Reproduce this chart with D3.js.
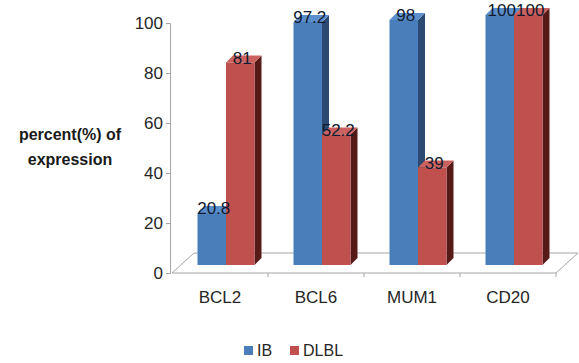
<!DOCTYPE html>
<html>
<head>
<meta charset="utf-8">
<script src="https://cdn.jsdelivr.net/npm/d3@7"></script>
<style>
  body { margin: 0; background: #fff; }
  #chart text { font-family: "Liberation Sans", Arial, sans-serif; }
</style>
</head>
<body>
<div id="chart"></div>
<script>
"use strict";

const categories = ["BCL2", "BCL6", "MUM1", "CD20"];
const seriesNames = ["IB", "DLBL"];
const ibValues = [20.8, 97.2, 98, 100];
const dlblValues = [81, 52.2, 39, 100];
const yTicks = [0, 20, 40, 60, 80, 100];

const W = 579, H = 363;

// front face, top face, right side face
const colors = {
  IB: ["#4a7ebb", "#5b8fcc", "#2b4a72"],
  DLBL: ["#c0504d", "#cc625f", "#561a18"],
};

window.addEventListener("load", function () {
  draw();
});

function draw() {
  const svg = d3.select("#chart").append("svg")
    .attr("width", W).attr("height", H);

  // front plane (axis) scales
  const x = d3.scaleBand().domain(categories).range([172, 556]).paddingInner(0);
  const y = d3.scaleLinear().domain([0, 100]).range([273, 23]);

  // floor depth and bar plane offset
  const floorDx = 22, floorDy = -20;
  const planeDx = 9, planeDy = -8;
  const depth = 7;

  const floor = svg.append("g").attr("stroke", "#a6a6a6").attr("fill", "none");
  floor.append("path")
    .attr("d", `M${x.range()[0]},${y(0)} L${x.range()[1]},${y(0)}` +
      ` L${x.range()[1] + floorDx},${y(0) + floorDy}` +
      ` L${x.range()[0] + floorDx},${y(0) + floorDy} Z`);

  // category tick marks on the front floor edge
  floor.selectAll("line")
    .data(categories.slice(1).map((c) => x(c)).concat([x.range()[1]]))
    .enter().append("line")
    .attr("x1", (d) => d).attr("x2", (d) => d)
    .attr("y1", y(0)).attr("y2", y(0) + 4);

  // y axis
  const yAxis = svg.append("g")
    .attr("transform", "translate(170,0)")
    .call(d3.axisLeft(y).tickValues(yTicks).tickSize(4).tickPadding(3));
  yAxis.select(".domain").attr("stroke", "#a6a6a6");
  yAxis.selectAll(".tick line").attr("stroke", "#a6a6a6");
  yAxis.selectAll(".tick text")
    .attr("font-size", 17).attr("fill", "#262626")
    .attr("font-family", "Liberation Sans, Arial, sans-serif");

  // category labels
  svg.append("g").selectAll("text")
    .data(categories).enter().append("text")
    .attr("x", (d) => x(d) + x.bandwidth() / 2)
    .attr("y", 303)
    .attr("text-anchor", "middle")
    .attr("font-size", 17)
    .attr("fill", "#262626")
    .text((d) => d);

  // bars
  const x1 = d3.scaleBand().domain(seriesNames).range([0, 57]);
  const pairOffset = (x.bandwidth() - 57) / 2 + planeDx - 3;
  const rows = [];
  categories.forEach((c, i) => {
    rows.push({ cat: c, s: "IB", v: ibValues[i] });
    rows.push({ cat: c, s: "DLBL", v: dlblValues[i] });
  });

  const bars = svg.append("g");
  rows.forEach((r) => {
    const x0 = x(r.cat) + pairOffset + x1(r.s);
    const x2 = x0 + x1.bandwidth();
    const yTop = y(r.v) + planeDy;
    const yBot = y(0) + planeDy;
    const c = colors[r.s];
    const g = bars.append("g");
    // side face
    g.append("path")
      .attr("d", `M${x2},${yTop} L${x2 + depth},${yTop - depth} L${x2 + depth},${yBot - depth} L${x2},${yBot} Z`)
      .attr("fill", c[2]);
    // top face
    g.append("path")
      .attr("d", `M${x0},${yTop} L${x0 + depth},${yTop - depth} L${x2 + depth},${yTop - depth} L${x2},${yTop} Z`)
      .attr("fill", c[1]);
    // front face
    g.append("rect")
      .attr("x", x0).attr("y", yTop)
      .attr("width", x2 - x0).attr("height", yBot - yTop)
      .attr("fill", c[0]);
    r.cx = (x0 + x2) / 2 + 2;
    r.yTop = yTop;
  });

  // value labels
  svg.append("g").selectAll("text")
    .data(rows).enter().append("text")
    .attr("x", (d) => d.cx)
    .attr("y", (d) => d.yTop + 1)
    .attr("text-anchor", "middle")
    .attr("font-size", 17)
    .attr("fill", "#111a2e")
    .text((d) => d.v);

  // y title
  const title = svg.append("text")
    .attr("text-anchor", "middle")
    .attr("font-size", 16)
    .attr("font-weight", "bold")
    .attr("fill", "#1a1a1a");
  title.append("tspan").attr("x", 70).attr("y", 140).text("percent(%) of");
  title.append("tspan").attr("x", 70).attr("y", 165).text("expression");

  // legend
  const legend = svg.append("g");
  const legendX = [244, 290];
  seriesNames.forEach((s, i) => {
    legend.append("rect")
      .attr("x", legendX[i]).attr("y", 346)
      .attr("width", 9).attr("height", 9)
      .attr("fill", colors[s][0]);
    legend.append("text")
      .attr("x", legendX[i] + 13).attr("y", 356)
      .attr("font-size", 16)
      .attr("fill", "#262626")
      .text(s);
  });
}
</script>
</body>
</html>
